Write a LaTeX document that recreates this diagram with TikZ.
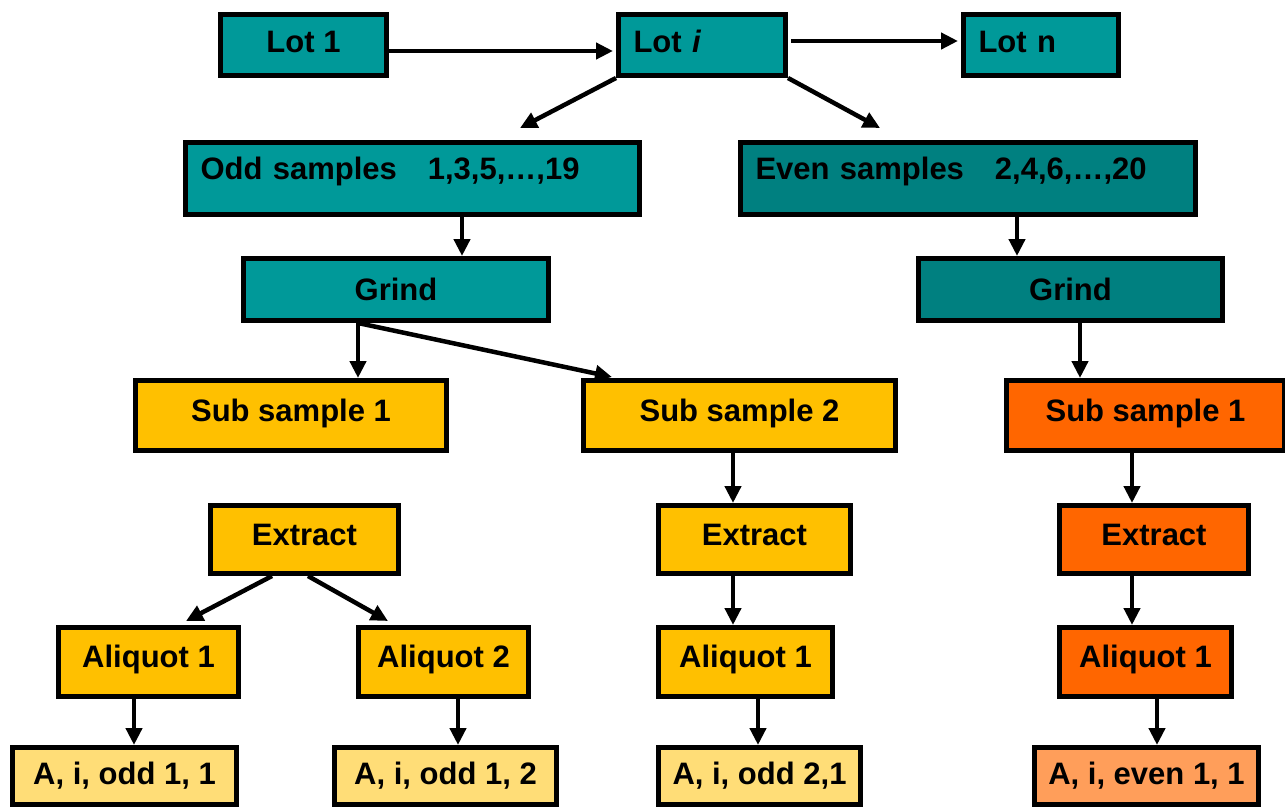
\documentclass[tikz,border=0pt]{standalone}
\usepackage{fontspec}
\setmainfont{Liberation Sans}
\usetikzlibrary{arrows.meta}

\definecolor{teal1}{RGB}{0,153,153}
\definecolor{teal2}{RGB}{0,128,128}
\definecolor{gold1}{RGB}{255,192,0}
\definecolor{orng1}{RGB}{255,102,0}
\definecolor{paleY}{RGB}{255,221,119}
\definecolor{paleO}{RGB}{255,158,90}

\tikzset{
  box/.style={draw=black, line width=5pt, rectangle, inner sep=0pt,
    anchor=north west, font=\bfseries\fontsize{31}{36}\selectfont},
  highbox/.style={box, text height=22pt, text depth=11pt},
  arr/.style={line width=4.5pt, -{Triangle[length=17pt,width=16pt]}},
}

\begin{document}
\begin{tikzpicture}[x=1pt,y=-1pt]
\useasboundingbox (0,0) rectangle (1285,806);

% ---- lots
\node[box, fill=teal1, minimum width=166pt, minimum height=61pt, text height=23pt, text depth=8pt] (lot1) at (218,12) {Lot 1};
\node[box, fill=teal1, minimum width=167pt, minimum height=61pt, text height=23pt, text depth=8pt, text width=137pt, align=left] (loti) at (616,12) {Lot \textit{i}};
\node[box, fill=teal1, minimum width=155pt, minimum height=61pt, text height=23pt, text depth=8pt, text width=125pt, align=left] (lotn) at (961,12) {Lot n};

% ---- odd / even split
\node[box, fill=teal1, minimum width=454pt, minimum height=72pt, text width=424pt, align=left,
      text height=37pt, text depth=35pt] (odd) at (183,140) {Odd samples\ \ \ 1,3,5,\ldots,19};
\node[box, fill=teal2, minimum width=455pt, minimum height=72pt, text width=425pt, align=left,
      text height=37pt, text depth=35pt] (even) at (738,140) {Even samples\ \ \ 2,4,6,\ldots,20};

% ---- grinding
\node[box, fill=teal1, minimum width=305pt, minimum height=62pt] (grindL) at (241,256) {Grind};
\node[box, fill=teal2, minimum width=304pt, minimum height=62pt] (grindR) at (916,256) {Grind};

% ---- sub samples
\node[highbox, fill=gold1, minimum width=311pt, minimum height=70pt] (subL) at (133,378) {Sub sample 1};
\node[highbox, fill=gold1, minimum width=312pt, minimum height=70pt] (subM) at (581,378) {Sub sample 2};
\node[highbox, fill=orng1, minimum width=278pt, minimum height=70pt] (subR) at (1004,378) {Sub sample 1};

% ---- extracts
\node[highbox, fill=gold1, minimum width=188pt, minimum height=68pt] (extL) at (208,503) {Extract};
\node[highbox, fill=gold1, minimum width=192pt, minimum height=68pt] (extM) at (656,503) {Extract};
\node[highbox, fill=orng1, minimum width=189pt, minimum height=68pt] (extR) at (1057,503) {Extract};

% ---- aliquots
\node[highbox, fill=gold1, minimum width=180pt, minimum height=69pt] (aliL) at (56,625) {Aliquot 1};
\node[highbox, fill=gold1, minimum width=170pt, minimum height=69pt] (aliN) at (356,625) {Aliquot 2};
\node[highbox, fill=gold1, minimum width=174pt, minimum height=69pt] (aliM) at (656,625) {Aliquot 1};
\node[highbox, fill=orng1, minimum width=172pt, minimum height=69pt] (aliR) at (1057,625) {Aliquot 1};

% ---- results
\node[box, fill=paleY, minimum width=224pt, minimum height=57pt] (resL) at (10,745) {A, i, odd 1, 1};
\node[box, fill=paleY, minimum width=222pt, minimum height=57pt] (resN) at (332,745) {A, i, odd 1, 2};
\node[box, fill=paleY, minimum width=202pt, minimum height=57pt] (resM) at (656,745) {A, i, odd 2,1};
\node[box, fill=paleO, minimum width=224pt, minimum height=57pt] (resR) at (1032,745) {A, i, even 1, 1};

% ---- arrow end points above boxes
\coordinate (tOdd) at (520,128);
\coordinate (tEven) at (880,128);
\coordinate (tSub2) at (612,377);
\coordinate (tAliL) at (186,621);
\coordinate (tAliN) at (388,621);

% ---- connectors
\draw[arr] ([yshift=-6pt]lot1.east) -- ([yshift=-6pt,xshift=-3pt]loti.west);
\draw[arr] ([yshift=4pt,xshift=3pt]loti.east) -- ([yshift=4pt,xshift=-3pt]lotn.west);
\draw[arr] (loti.south west) -- (tOdd);
\draw[arr] (loti.south east) -- (tEven);

\draw[arr] (odd.south -| 462,0) -- (grindL.north -| 462,0);
\draw[arr] (even.south -| 1017,0) -- (grindR.north -| 1017,0);

\draw[arr] (grindL.south -| 358,0) -- (subL.north -| 358,0);
\draw[arr] (grindL.south -| 358,0) -- (tSub2);
\draw[arr] (grindR.south -| 1080,0) -- (subR.north -| 1080,0);

\draw[arr] (subM.south -| 733,0) -- (extM.north -| 733,0);
\draw[arr] (subR.south -| 1132,0) -- (extR.north -| 1132,0);

\draw[arr] (extL.south -| 272,0) -- (tAliL);
\draw[arr] (extL.south -| 308,0) -- (tAliN);
\draw[arr] (extM.south -| 733,0) -- (aliM.north -| 733,0);
\draw[arr] (extR.south -| 1132,0) -- (aliR.north -| 1132,0);

\draw[arr] (aliL.south -| 134,0) -- (resL.north -| 134,0);
\draw[arr] (aliN.south -| 458,0) -- (resN.north -| 458,0);
\draw[arr] (aliM.south -| 758,0) -- (resM.north -| 758,0);
\draw[arr] (aliR.south -| 1157,0) -- (resR.north -| 1157,0);
\end{tikzpicture}
\end{document}
